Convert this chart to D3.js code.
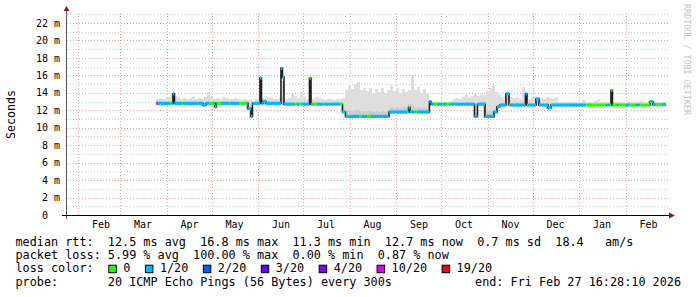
<!DOCTYPE html>
<html>
<head>
<meta charset="utf-8">
<script src="https://cdn.jsdelivr.net/npm/d3@7"></script>
<style>
 html, body { margin: 0; padding: 0; background: #fff; }
 svg text { font-family: "DejaVu Sans Mono", monospace; white-space: pre; }
</style>
</head>
<body>
<div id="chart"></div>
<script>
// median rtt (ms), step changes
const medianPts = [
 ["2025-03-25", 12.8], ["2025-04-05", 13.9], ["2025-04-06", 12.8],
 ["2025-04-25", 12.6], ["2025-04-27", 12.8], ["2025-05-03", 12.4],
 ["2025-05-04", 12.8], ["2025-05-25", 12.2], ["2025-05-27", 11.3],
 ["2025-05-28", 12.8], ["2025-06-02", 15.7], ["2025-06-03", 12.8],
 ["2025-06-04", 13.0], ["2025-06-06", 12.8], ["2025-06-16", 16.8],
 ["2025-06-17", 15.8], ["2025-06-18", 12.7], ["2025-07-05", 15.7],
 ["2025-07-06", 12.7], ["2025-07-27", 11.8], ["2025-07-29", 11.3],
 ["2025-08-27", 11.8], ["2025-09-09", 12.3], ["2025-09-10", 11.8],
 ["2025-09-23", 13.0], ["2025-09-24", 12.7], ["2025-10-23", 11.3],
 ["2025-10-25", 12.7], ["2025-10-30", 11.3], ["2025-11-05", 11.8],
 ["2025-11-07", 12.4], ["2025-11-09", 12.6], ["2025-11-13", 13.9],
 ["2025-11-15", 12.6], ["2025-11-26", 13.9], ["2025-11-27", 12.6],
 ["2025-12-03", 13.3], ["2025-12-05", 12.6], ["2025-12-11", 12.3],
 ["2025-12-13", 12.6], ["2026-01-22", 14.3], ["2026-01-23", 12.6],
 ["2026-02-17", 13.0], ["2026-02-19", 12.65]
];

// loss bucket index (into lossLabels), step changes
const lossPts = [
 ["2025-03-25", 5], ["2025-03-26", 1],
 ["2025-04-03", 0], ["2025-04-04", 1], ["2025-04-11", 0], ["2025-04-12", 1],
 ["2025-04-21", 0], ["2025-04-22", 1], ["2025-04-29", 0], ["2025-05-02", 1],
 ["2025-05-04", 0], ["2025-05-07", 1], ["2025-05-12", 0], ["2025-05-13", 1],
 ["2025-05-19", 0], ["2025-05-24", 1], ["2025-06-25", 0], ["2025-06-27", 1],
 ["2025-06-28", 0], ["2025-06-30", 1], ["2025-07-05", 0], ["2025-07-06", 1],
 ["2025-07-07", 0], ["2025-07-10", 1], ["2025-07-14", 0], ["2025-07-15", 1],
 ["2025-07-18", 0], ["2025-07-19", 1], ["2025-07-25", 0], ["2025-07-28", 1],
 ["2025-08-07", 0], ["2025-08-09", 1], ["2025-08-12", 0], ["2025-08-15", 1],
 ["2025-09-08", 0], ["2025-09-09", 1], ["2025-09-13", 0], ["2025-09-15", 1],
 ["2025-09-26", 0], ["2025-09-28", 1], ["2025-10-01", 0], ["2025-10-02", 1],
 ["2025-10-04", 0], ["2025-10-07", 1], ["2025-11-15", 0], ["2025-11-16", 1],
 ["2025-11-27", 0], ["2025-11-28", 1], ["2026-01-05", 0],
 ["2026-01-19", 1], ["2026-01-21", 0], ["2026-01-26", 1], ["2026-01-27", 0],
 ["2026-02-01", 1], ["2026-02-03", 0], ["2026-02-08", 1], ["2026-02-10", 0],
 ["2026-02-18", 1], ["2026-02-21", 0], ["2026-02-25", 1]
];

// smoke top (max ping, ms), one value per 2 days starting 2025-03-25
const smokeStart = "2025-03-25";
const smokeHi = [
 13.3, 13.4, 13.3, 13.4, 13.5, 14.0, 13.6, 13.5, 13.3, 13.4,
 13.3, 13.4, 13.5, 13.3, 13.4, 13.3, 13.5, 14.1, 13.6, 13.3,
 13.4, 13.3, 13.5, 13.4, 13.3, 13.3, 13.4, 13.3, 13.2, 13.3,
 13.2, 13.2, 12.9, 13.3, 13.5, 13.4, 13.3, 13.5, 13.4, 13.3,
 13.3, 13.5, 13.4, 13.3, 13.4, 13.9, 13.6, 13.4, 14.1, 13.5,
 13.3, 13.4, 13.3, 13.5, 13.4, 13.3, 13.2, 13.3, 13.3, 13.2,
 13.3, 13.3, 13.4, 14.3, 14.9, 14.4, 15.0, 15.2, 14.3, 14.6,
 14.2, 14.5, 13.9, 14.4, 14.1, 14.6, 14.0, 14.3, 14.8, 14.2,
 14.5, 14.0, 14.4, 14.1, 14.3, 16.0, 14.3, 14.7, 14.0, 14.4,
 13.9, 13.0, 12.9, 12.9, 12.9, 13.0, 12.9, 13.0, 13.1, 13.3,
 13.4, 13.3, 13.5, 13.7, 13.4, 13.6, 13.9, 13.6, 14.0, 13.7,
 14.2, 14.5, 14.9, 14.1, 13.8, 13.5, 13.6, 14.0, 13.5, 13.4,
 13.5, 13.3, 14.7, 14.0, 13.3, 13.4, 13.6, 13.5, 13.4, 13.3,
 13.5, 13.4, 13.3, 13.5, 13.0, 13.0, 12.9, 13.0, 13.0, 12.9,
 13.0, 13.0, 13.2, 13.0, 13.0, 12.9, 13.1, 13.3, 12.9, 13.0,
 12.9, 13.0, 12.9, 13.0, 13.0, 12.9, 13.0, 13.1, 12.9, 13.0,
 13.0, 13.1, 12.9, 13.0, 13.1, 13.0, 13.1, 13.0, 12.9, 13.0
];

const lossLabels = ["0", "1/20", "2/20", "3/20", "4/20", "10/20", "19/20"];
const lossColors = ["#26ff00", "#00b8ff", "#0059ff", "#5e00ff", "#7e00ff", "#dd00ff", "#ff0000"];
const monthLabels = ["Feb", "Mar", "Apr", "May", "Jun", "Jul", "Aug", "Sep", "Oct", "Nov", "Dec", "Jan", "Feb"];
const yTicks = [0, 2, 4, 6, 8, 10, 12, 14, 16, 18, 20, 22];

const statsRtt = "median rtt:  12.5 ms avg  16.8 ms max  11.3 ms min  12.7 ms now  0.7 ms sd  18.4   am/s";
const statsLoss = "packet loss: 5.99 % avg  100.00 % max  0.00 % min  0.87 % now";
const probeText = "probe:       20 ICMP Echo Pings (56 Bytes) every 300s";
const endText = "end: Fri Feb 27 16:28:10 2026";

const width = 697, height = 297;
const parse = d3.timeParse("%Y-%m-%d");
const tStart = new Date(2025, 0, 23, 16, 28, 10);
const tEnd = new Date(2026, 1, 27, 16, 28, 10);

const x = d3.scaleTime().domain([tStart, tEnd]).range([66, 666]);
const y = d3.scaleLinear().domain([0, 23]).range([215, 14.3]);

const svg = d3.select("#chart").append("svg")
 .attr("width", width).attr("height", height);

// grid
const grid = svg.append("g").attr("shape-rendering", "crispEdges");
grid.selectAll(".minor").data(d3.range(1, 24).filter((v) => v % 2))
 .enter().append("line")
 .attr("x1", 67).attr("x2", 668)
 .attr("y1", (d) => Math.round(y(d)) + 0.5).attr("y2", (d) => Math.round(y(d)) + 0.5)
 .attr("stroke", "#c8c8c8").attr("stroke-dasharray", "1,2");
grid.selectAll(".major").data(yTicks.slice(1))
 .enter().append("line")
 .attr("x1", 67).attr("x2", 668)
 .attr("y1", (d) => Math.round(y(d)) + 0.5).attr("y2", (d) => Math.round(y(d)) + 0.5)
 .attr("stroke", "#e4a4a4").attr("stroke-dasharray", "1,2");
const months = d3.timeMonth.range(d3.timeMonth.ceil(tStart), tEnd);
grid.selectAll(".vmajor").data(months)
 .enter().append("line")
 .attr("x1", (d) => Math.round(x(d)) + 0.5).attr("x2", (d) => Math.round(x(d)) + 0.5)
 .attr("y1", 13).attr("y2", 215)
 .attr("stroke", "#e4a4a4").attr("stroke-dasharray", "1,2");

// smoke
const medians = medianPts.map((d) => ({ t: parse(d[0]), v: d[1] }));
const losses = lossPts.map((d) => ({ t: parse(d[0]), v: d[1] }));
const stepAt = (arr, t) => {
 let v = arr[0].v;
 for (const p of arr) { if (p.t <= t) v = p.v; else break; }
 return v;
};
const s0 = parse(smokeStart);
const bins = smokeHi.map((hi, i) => {
 const a = d3.timeDay.offset(s0, 2 * i);
 const b = d3.min([d3.timeDay.offset(s0, 2 * i + 2), tEnd]);
 const inside = medians.filter((p) => p.t > a && p.t < b).map((p) => p.v);
 const m = stepAt(medians, a);
 const lo = d3.min([m, ...inside]) - 0.15;
 return { a, b, hi, lo, m };
});
const smoke = svg.append("g").attr("shape-rendering", "crispEdges");
smoke.selectAll(".s1").data(bins).enter().append("rect")
 .attr("x", (d) => x(d.a)).attr("width", (d) => x(d.b) - x(d.a))
 .attr("y", (d) => y(d.hi)).attr("height", (d) => y(d.lo) - y(d.hi))
 .attr("fill", "#dedede");
smoke.selectAll(".s2").data(bins).enter().append("rect")
 .attr("x", (d) => x(d.a)).attr("width", (d) => x(d.b) - x(d.a))
 .attr("y", (d) => y(d.m + (d.hi - d.m) * 0.2))
 .attr("height", (d) => Math.max(0, y(d.lo) - y(d.m + (d.hi - d.m) * 0.2)))
 .attr("fill", "#cdcdcd");

// median black step line
const line = d3.line().x((d) => x(d.t)).y((d) => y(d.v)).curve(d3.curveStepAfter);
svg.append("path")
 .datum([...medians, { t: tEnd, v: medians[medians.length - 1].v }])
 .attr("d", line).attr("fill", "none")
 .attr("stroke", "#202020").attr("stroke-width", 1.6);

// loss coloured median bands
const times = Array.from(new Set([...medians, ...losses].map((d) => +d.t))).sort((a, b) => a - b);
times.push(+tEnd);
const segs = [];
for (let i = 0; i < times.length - 1; i++) {
 const t = new Date(times[i]);
 segs.push({ a: t, b: new Date(times[i + 1]), m: stepAt(medians, t), l: stepAt(losses, t) });
}
svg.append("g").selectAll("rect").data(segs).enter().append("rect")
 .attr("x", (d) => x(d.a)).attr("width", (d) => x(d.b) - x(d.a))
 .attr("y", (d) => y(d.m) - 1.6).attr("height", 3.2)
 .attr("fill", (d) => lossColors[d.l]);

// axes
svg.append("line").attr("x1", 66.5).attr("x2", 66.5).attr("y1", 219).attr("y2", 11)
 .attr("stroke", "#555").attr("stroke-width", 1);
svg.append("path").attr("d", "M63.5,11 L69.5,11 L66.5,6 Z").attr("fill", "#8b1a1a");
svg.append("line").attr("x1", 62).attr("x2", 670).attr("y1", 215.5).attr("y2", 215.5)
 .attr("stroke", "#000").attr("stroke-width", 1);
svg.append("path").attr("d", "M669,212.5 L669,218.5 L675,215.5 Z").attr("fill", "#8b1a1a");

// y labels
svg.append("g").selectAll("text").data(yTicks).enter().append("text")
 .attr("x", 60).attr("y", (d) => y(d)).attr("dy", "0.36em")
 .attr("text-anchor", "end").attr("font-size", "10px").attr("fill", "#000")
 .text((d) => (d === 0 ? "0  " : d + " m"));

// x labels, centred on day 16 of each month
svg.append("g").selectAll("text").data(months).enter().append("text")
 .attr("x", (d) => x(d3.timeDay.offset(d, 15))).attr("y", 228)
 .attr("text-anchor", "middle").attr("font-size", "10px").attr("fill", "#000")
 .text((d, i) => monthLabels[i]);

svg.append("text").attr("transform", "translate(14.5,114.5) rotate(-90)")
 .attr("text-anchor", "middle").attr("font-size", "11.6px").text("Seconds");

svg.append("text").attr("transform", "translate(684,4) rotate(90)")
 .attr("font-size", "8.4px").attr("fill", "#c4c4c4").text("RRDTOOL / TOBI OETIKER");

// legend
const lg = svg.append("g").attr("font-size", "11.8px").attr("fill", "#000");
lg.append("text").attr("x", 15.5).attr("y", 245.5).text(statsRtt);
lg.append("text").attr("x", 15.5).attr("y", 258.9).text(statsLoss);
lg.append("text").attr("x", 15.5).attr("y", 272.3).text("loss color:");
lg.append("text").attr("x", 15.5).attr("y", 285.7).text(probeText);
lg.append("text").attr("x", 681).attr("y", 285.7).attr("text-anchor", "end").text(endText);

let bx = 108.3;
lossLabels.forEach((lab, i) => {
 lg.append("rect").attr("x", bx + 0.5).attr("y", 265.2).attr("width", 7.5).attr("height", 7.5)
  .attr("fill", lossColors[i]).attr("stroke", "#000").attr("stroke-width", 1);
 const t = lg.append("text").attr("x", bx + 15).attr("y", 272.3).text(lab);
 bx = bx + 15 + t.node().getComputedTextLength() + 14.5;
});
</script>
</body>
</html>
